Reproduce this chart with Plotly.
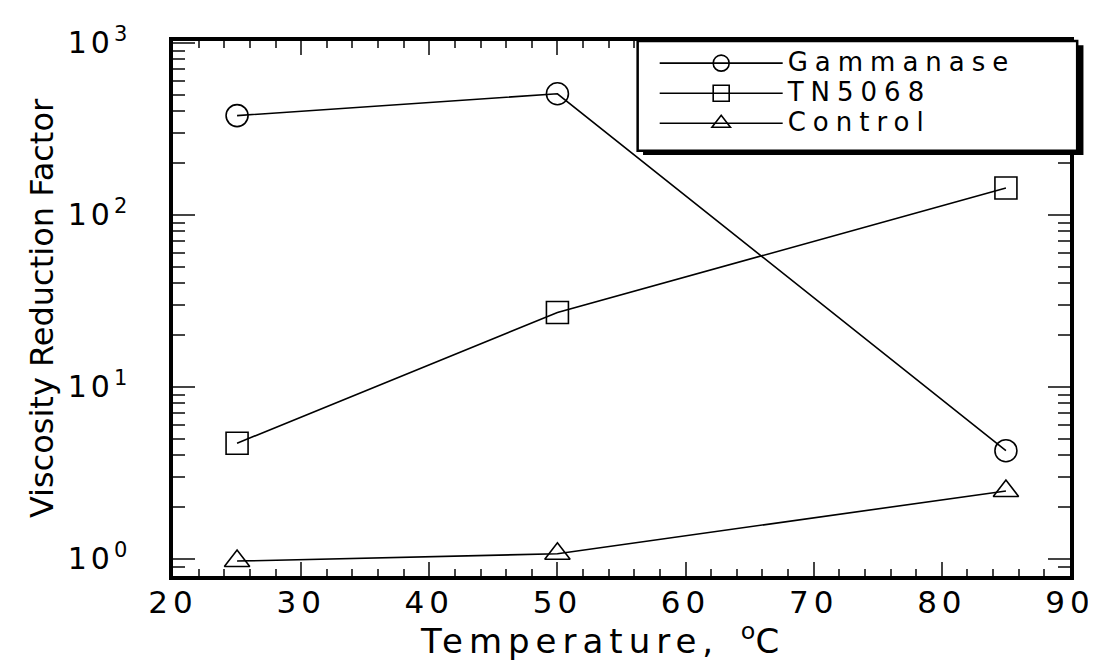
import plotly.graph_objects as go

temperature = [25, 50, 85]
gammanase = [377, 505, 4.25]
tn5068 = [4.7, 27, 143]
control = [0.97, 1.07, 2.48]

series_names = ["Gammanase", "TN5068", "Control"]
series_symbols = ["circle-open", "square-open", "triangle-up-open"]

x_ticks = [20, 30, 40, 50, 60, 70, 80, 90]
y_tickvals = [1, 10, 100, 1000]
y_exponents = ["0", "1", "2", "3"]

x_title = "Temperature,"
x_unit = "C"
y_title = "Viscosity Reduction Factor"

FONT = "DejaVu Sans, Liberation Sans, Arial, sans-serif"


def wide(text, size, spacing):
    return f'<span style="font-size:{size}px;letter-spacing:{spacing}px">{text}</span>'


x_ticktext = [wide(str(v), 31, 5) for v in x_ticks]
y_ticktext = [wide("10", 30, 4) + f"<sup>{e}</sup>" for e in y_exponents]

fig = go.Figure()
for name, vals, sym in zip(series_names, [gammanase, tn5068, control], series_symbols):
    fig.add_trace(go.Scatter(
        x=temperature, y=vals, name=wide(name, 26, 7), mode="lines+markers",
        line=dict(color="black", width=1.6),
        marker=dict(symbol=sym, size=22, color="black", line=dict(width=1.6, color="black")),
    ))

fig.update_layout(
    width=1096, height=664,
    margin=dict(l=165, r=34, t=33, b=96, autoexpand=False),
    paper_bgcolor="white", plot_bgcolor="white",
    font=dict(family=FONT, color="black", size=28),
    showlegend=True,
    legend=dict(
        x=0.537, y=0.996, xanchor="left", yanchor="top",
        bgcolor="rgba(0,0,0,0)", borderwidth=0,
        font=dict(size=20.8, family=FONT), itemwidth=123,
        tracegroupgap=0,
    ),
    xaxis=dict(
        range=[20, 90], tickvals=x_ticks, ticktext=x_ticktext, automargin=False,
        ticks="inside", ticklen=14, tickwidth=2,
        showline=True, linewidth=3.5, linecolor="black", mirror="ticks",
        showgrid=False, zeroline=False, ticklabelstandoff=-4,
        minor=dict(ticks="inside", ticklen=7, tickwidth=1.5, dtick=2, showgrid=False),
        tickfont=dict(size=31),
    ),
    yaxis=dict(
        type="log", range=[-0.1, 3.01], tickvals=y_tickvals, ticktext=y_ticktext,
        automargin=False,
        ticks="inside", ticklen=22, tickwidth=2,
        showline=True, linewidth=3.5, linecolor="black", mirror="ticks",
        showgrid=False, zeroline=False, ticklabelstandoff=36,
        minor=dict(ticks="inside", ticklen=12, tickwidth=1.5, dtick="D1", showgrid=False),
        tickfont=dict(size=30),
        title=dict(text=y_title, font=dict(size=32), standoff=5),
    ),
)

fig.add_annotation(
    xref="paper", yref="paper", x=0.476, y=-0.118, xanchor="center", yanchor="middle",
    showarrow=False, font=dict(size=34, family=FONT),
    text=wide(x_title, 34, 6) + "  <sup>o</sup>" + wide(x_unit, 34, 0),
)

# legend box with drop shadow
fig.add_shape(type="rect", xref="paper", yref="paper", x0=0.524, x1=1.015, y0=0.787, y1=0.992,
              fillcolor="black", line=dict(width=0), layer="above")
fig.add_shape(type="rect", xref="paper", yref="paper", x0=0.518, x1=1.008, y0=0.795, y1=1.0,
              fillcolor="white", line=dict(color="black", width=2.5), layer="above")

fig.write_html("out.html")
